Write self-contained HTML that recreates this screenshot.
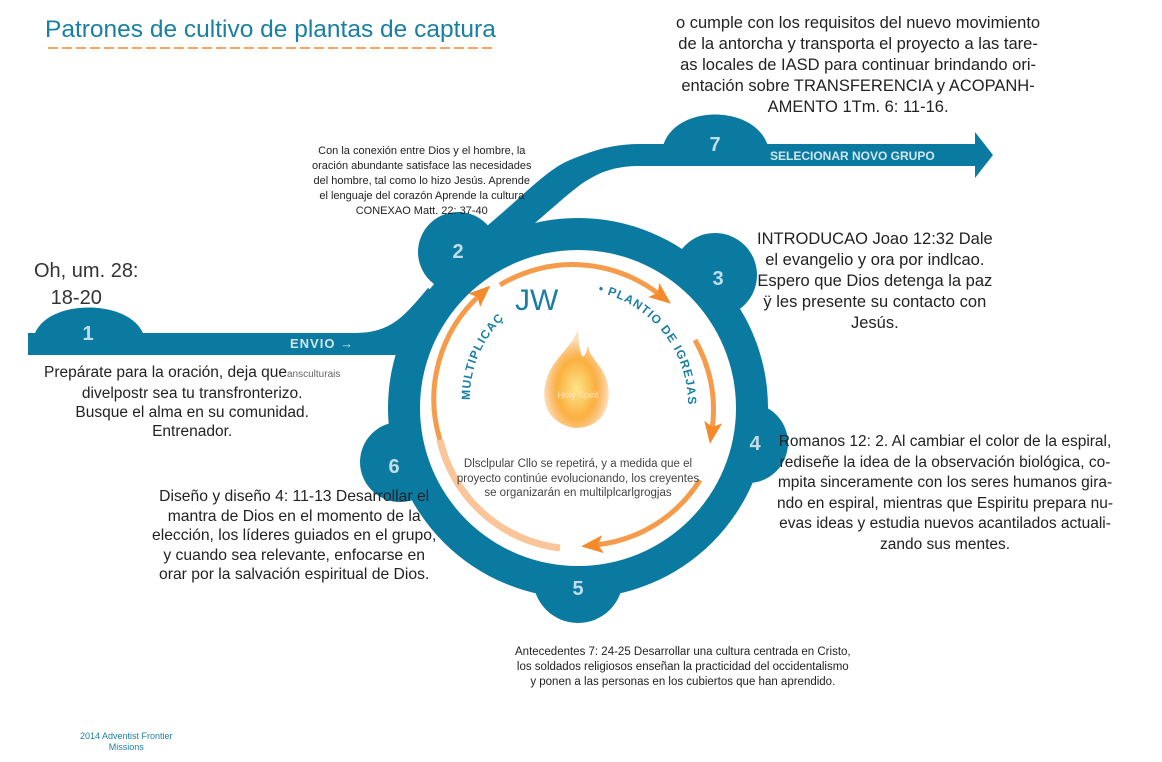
<!DOCTYPE html>
<html><head><meta charset="utf-8"><style>
body{margin:0;background:#fff;width:1162px;height:762px;overflow:hidden;position:relative;font-family:"Liberation Sans",sans-serif}
.t{position:absolute;text-align:center;color:#222;white-space:nowrap}
</style></head><body>
<svg width="1162" height="762" style="position:absolute;left:0;top:0">
<defs>
<radialGradient id="fl" cx="50%" cy="60%" r="50%"><stop offset="0" stop-color="#fde68a"/><stop offset="0.6" stop-color="#fbb040"/><stop offset="1" stop-color="#f7941d" stop-opacity="0.3"/></radialGradient>
<marker id="ah" markerUnits="userSpaceOnUse" markerWidth="24" markerHeight="24" refX="8" refY="12" orient="auto"><path d="M0,3 L22,12 L0,21 L5,12z" fill="#f58a2a"/></marker>
</defs>
<text x="45" y="37" font-size="24.5" fill="#1a80a3" font-family="Liberation Sans">Patrones de cultivo de plantas de captura</text>
<line x1="48" y1="48" x2="495" y2="48" stroke="#f5a66a" stroke-width="2" stroke-dasharray="10 4"/>
<g fill="#0b7aa1">
<rect x="28" y="333" width="345" height="22"/>
<path d="M34,336 C45,298 132,298 144,336z"/>
<path d="M355,333 C392,333 405,315 428,288 L445,300 L420,355 L355,355z"/>
<path d="M470,240 C520,200 545,170 570,160 C590,152 610,144 640,144 L975,144 L975,132 L993,155 L975,178 L975,166 L640,166 C610,166 595,175 580,185 C560,200 540,220 520,235z"/>
<path d="M663,146 C675,104 755,104 768,146z"/>
<circle cx="578" cy="408" r="190"/>
<circle cx="458" cy="252" r="40"/>
<circle cx="715" cy="275" r="42"/>
<circle cx="748" cy="443" r="40"/>
<circle cx="578" cy="578" r="45"/>
<circle cx="400" cy="462" r="40"/>
</g>
<circle cx="578" cy="408" r="158" fill="#fff"/>
<g fill="none" stroke="#f58a2a" stroke-width="5" stroke-opacity="0.85">
<path d="M440,440 A140,140 0 0 1 480,295" marker-end="url(#ah)"/>
<path d="M500,285 A140,140 0 0 1 660,295" marker-end="url(#ah)"/>
<path d="M695,340 A140,140 0 0 1 712,430" marker-end="url(#ah)"/>
<path d="M700,480 A140,140 0 0 1 595,545" marker-end="url(#ah)"/>
</g>
<path d="M440,440 A140,140 0 0 0 560,548" fill="none" stroke="#fbc59a" stroke-width="7"/>
<path d="M578,330 C570,350 550,360 545,385 C540,410 555,425 575,428 C600,428 612,410 608,385 C604,365 590,360 588,345 C585,360 580,365 578,330z" fill="url(#fl)"/>
<text x="578" y="398" font-size="9" fill="#fde7c0" text-anchor="middle">Holy Spirit</text>
<text x="515" y="310" font-size="30" fill="#1a7fa3" font-family="Liberation Sans">JW</text>
<path id="arcL" d="M470,400 A110,110 0 0 1 530,300" fill="none"/>
<text font-size="12" font-weight="bold" fill="#1a7fa3" letter-spacing="1"><textPath href="#arcL">MULTIPLICAÇ</textPath></text>
<path id="arcR" d="M598,292 A115,115 0 0 1 688,405" fill="none"/>
<text font-size="12" font-weight="bold" fill="#1a7fa3" letter-spacing="1"><textPath href="#arcR">• PLANTIO DE IGREJAS</textPath></text>
<g fill="#c4dde8" font-size="20" font-weight="bold" text-anchor="middle">
<text x="88" y="340">1</text><text x="458" y="258">2</text><text x="718" y="285">3</text>
<text x="755" y="450">4</text><text x="578" y="595">5</text><text x="394" y="473">6</text><text x="715" y="151">7</text>
</g>
<text x="290" y="348" font-size="13" font-weight="bold" fill="#d0e6ef" letter-spacing="1">ENVIO →</text>
<text x="770" y="160" font-size="12" font-weight="bold" fill="#d0e6ef">SELECIONAR NOVO GRUPO</text>
</svg>
<div class="t" style="left:34px;top:258px;font-size:20px;line-height:27px;color:#333;text-align:left">Oh, um. 28:<br>&nbsp;&nbsp;&nbsp;18-20</div>
<div class="t" style="left:44px;top:363px;font-size:15.5px;line-height:19px">Prepárate para la oración, deja que<span style="font-size:10px;color:#666">ansculturais</span><br>divelpostr sea tu transfronterizo.<br>Busque el alma en su comunidad.<br>Entrenador.</div>
<div class="t" style="left:152px;top:487px;font-size:15.7px;line-height:19.5px">Diseño y diseño 4: 11-13 Desarrollar el<br>mantra de Dios en el momento de la<br>elección, los líderes guiados en el grupo,<br>y cuando sea relevante, enfocarse en<br>orar por la salvación espiritual de Dios.</div>
<div class="t" style="left:312px;top:144px;font-size:11px;line-height:15px">Con la conexión entre Dios y el hombre, la<br>oración abundante satisface las necesidades<br>del hombre, tal como lo hizo Jesús. Aprende<br>el lenguaje del corazón Aprende la cultura<br>CONEXAO Matt. 22: 37-40</div>
<div class="t" style="left:676px;top:13px;font-size:16.5px;line-height:21px">o cumple con los requisitos del nuevo movimiento<br>de la antorcha y transporta el proyecto a las tare-<br>as locales de IASD para continuar brindando ori-<br>entación sobre TRANSFERENCIA y ACOPANH-<br>AMENTO 1Tm. 6: 11-16.</div>
<div class="t" style="left:757px;top:229px;font-size:16.5px;line-height:21px">INTRODUCAO Joao 12:32 Dale<br>el evangelio y ora por indlcao.<br>Espero que Dios detenga la paz<br>ÿ les presente su contacto con<br>Jesús.</div>
<div class="t" style="left:777px;top:432px;font-size:15.5px;line-height:20.5px">Romanos 12: 2. Al cambiar el color de la espiral,<br>rediseñe la idea de la observación biológica, co-<br>mpita sinceramente con los seres humanos gira-<br>ndo en espiral, mientras que Espiritu prepara nu-<br>evas ideas y estudia nuevos acantilados actuali-<br>zando sus mentes.</div>
<div class="t" style="left:440px;top:457px;font-size:11.5px;line-height:14.5px;width:276px;color:#444">Dlsclpular Cllo se repetirá, y a medida que el<br>proyecto continúe evolucionando, los creyentes<br>se organizarán en multilplcarlgrogjas</div>
<div class="t" style="left:515px;top:645px;font-size:11.5px;line-height:15px">Antecedentes 7: 24-25 Desarrollar una cultura centrada en Cristo,<br>los soldados religiosos enseñan la practicidad del occidentalismo<br>y ponen a las personas en los cubiertos que han aprendido.</div>
<div class="t" style="left:80px;top:731px;font-size:9px;line-height:11px;color:#1a7fa3">2014 Adventist Frontier<br>Missions</div>
</body></html>
